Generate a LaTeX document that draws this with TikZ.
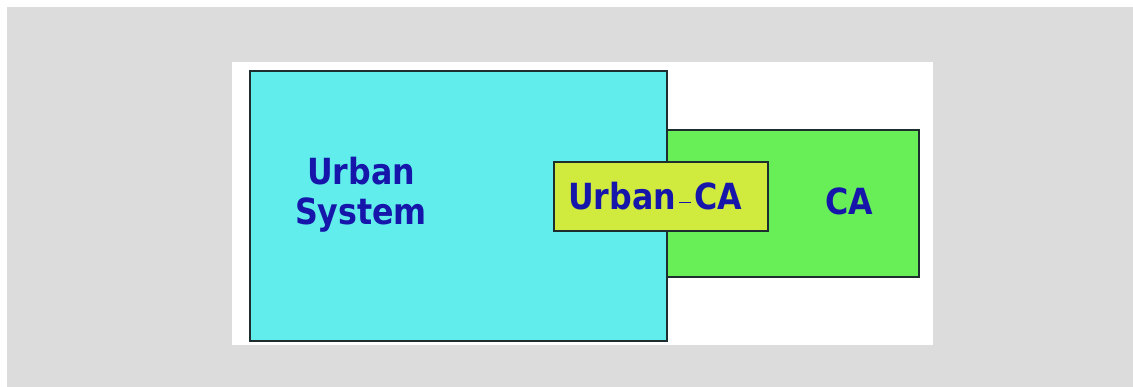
\documentclass[tikz,border=0pt]{standalone}
\usepackage{fontspec}
\newfontfamily\labfont{DejaVu Sans Bold}[FakeStretch=0.88]
\definecolor{bggray}{RGB}{220,220,220}
\definecolor{cyanfill}{RGB}{96,237,235}
\definecolor{greenfill}{RGB}{104,238,86}
\definecolor{yellowfill}{RGB}{208,234,62}
\definecolor{edge}{RGB}{30,45,45}
\definecolor{labblue}{RGB}{22,22,170}
\begin{document}
\begin{tikzpicture}[x=1pt,y=-1pt,
  box/.style={draw=edge, line width=1.8pt, inner sep=0pt, anchor=north west},
  lab/.style={text=labblue, font=\labfont\fontsize{36}{40}\selectfont, align=center, inner sep=0pt}]
\useasboundingbox (0,0) rectangle (1133,387);
\fill[white] (0,0) rectangle (1133,387);
\fill[bggray] (7,7) rectangle (1133,387);
\fill[white] (232,62) rectangle (933,345);
\node[box, fill=cyanfill, minimum width=417pt, minimum height=270pt] (urbanbox) at (249,70) {};
\node[box, fill=greenfill, minimum width=252pt, minimum height=147pt] (cabox) at (666,129) {};
\node[box, fill=yellowfill, minimum width=214pt, minimum height=69pt] (ucabox) at (553,161) {};
\node[lab] (urbantxt) at (361,195) {Urban\\System};
\node[lab] (catxt) at (849,201) {CA};
\node[lab] (ucatxt) at (655,196) {Urban\hspace{3pt}\rule[6pt]{12pt}{1.5pt}\hspace{3pt}CA};
\end{tikzpicture}
\end{document}
